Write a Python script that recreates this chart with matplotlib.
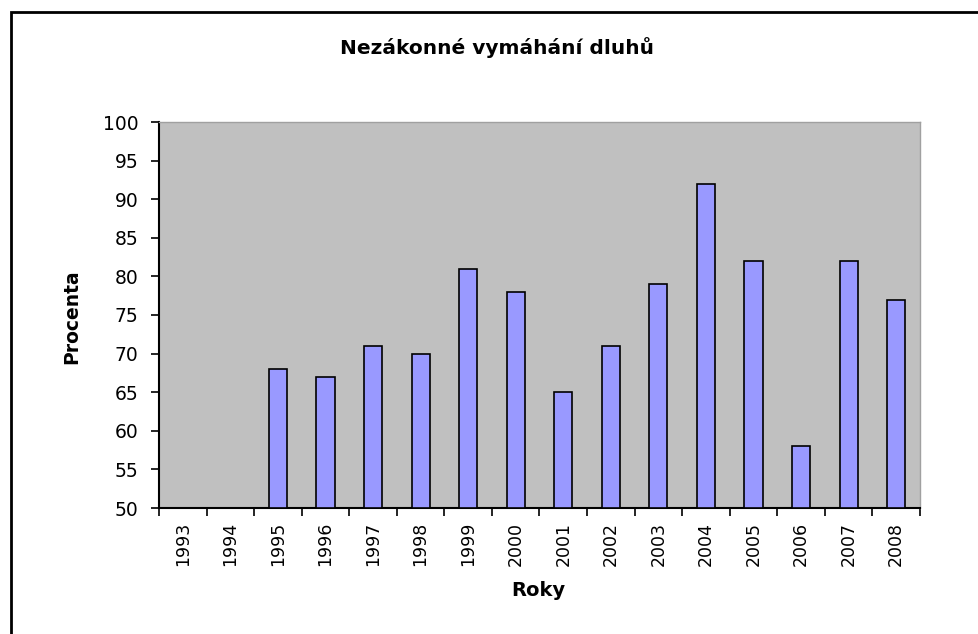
import numpy as np
import matplotlib
matplotlib.use("Agg")
import matplotlib.pyplot as plt
from matplotlib.patches import Rectangle

# data (1993 and 1994 have no bar)
years = ["1993", "1994", "1995", "1996", "1997", "1998", "1999", "2000",
         "2001", "2002", "2003", "2004", "2005", "2006", "2007", "2008"]
percent = [np.nan, np.nan, 68, 67, 71, 70, 81, 78, 65, 71, 79, 92, 82, 58, 82, 77]
y_ticks = [50, 55, 60, 65, 70, 75, 80, 85, 90, 95, 100]

plt.rcParams['font.family'] = ['DejaVu Sans']

W, H = 979, 634
fig = plt.figure(figsize=(W / 100, H / 100), dpi=100)

# chart area frame (right and bottom run off the picture)
fig.patches.append(Rectangle((11 / W, -0.1), 1.2, 1 - 12 / H + 0.1,
                             transform=fig.transFigure, fill=False,
                             edgecolor='black', linewidth=2, zorder=0))

ax = fig.add_axes([159 / W, 1 - 508 / H, (920 - 159) / W, (508 - 122) / H])
ax.set_facecolor('#C0C0C0')

x = np.arange(len(years))
vals = np.array(percent, dtype=float)
ax.bar(x, vals - 50, bottom=50, width=0.38, color='#9999FF',
       edgecolor='black', linewidth=1.2, zorder=3)

ax.set_xlim(-0.5, len(years) - 0.5)
ax.set_ylim(50, 100)
ax.set_yticks(y_ticks)
ax.set_yticklabels([str(v) for v in y_ticks], fontsize=13.5)

# category labels at centres, tick marks between categories
ax.set_xticks(x)
ax.set_xticklabels(years, rotation=90, fontsize=12.5)
ax.tick_params(axis='x', which='major', length=0, pad=10)
ax.set_xticks(np.arange(-0.5, len(years)), minor=True)
ax.tick_params(axis='x', which='minor', length=6, width=1.2, direction='out')
ax.tick_params(axis='y', length=6, width=1.2, direction='out', pad=9)

for side in ['top', 'right']:
    ax.spines[side].set_color('#A0A0A0')
    ax.spines[side].set_linewidth(1)
for side in ['left', 'bottom']:
    ax.spines[side].set_color('black')
    ax.spines[side].set_linewidth(1.5)

fig.text(497 / W, 1 - 48 / H, "Nezákonné vymáhání dluhů", ha='center',
         va='center', fontsize=14.5, fontweight='bold')
fig.text(72 / W, 1 - 317 / H, "Procenta", ha='center', va='center',
         rotation=90, fontsize=13.5, fontweight='bold')
fig.text(538 / W, 1 - 590 / H, "Roky", ha='center', va='center',
         fontsize=14, fontweight='bold')

fig.savefig("out.png", dpi=100)
